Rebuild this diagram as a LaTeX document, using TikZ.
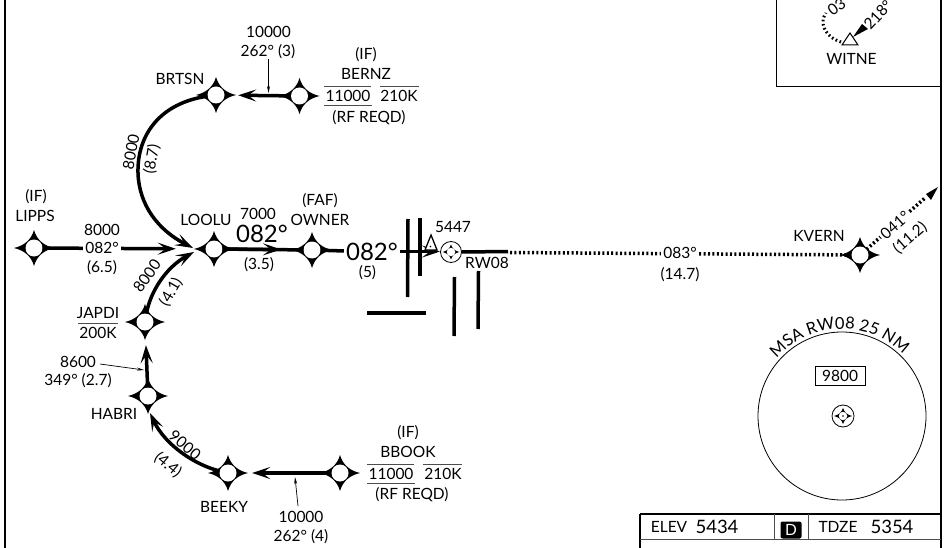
\documentclass[tikz,border=0pt]{standalone}
\usepackage{fontspec}
\setmainfont{Lato}
\usetikzlibrary{positioning,arrows.meta,decorations.text}

% four pointed fix symbol, x y scale
\newcommand{\fourstar}[3]{\fill[shift={(#1,#2)},scale=#3] (0,-18) .. controls (2.5,-9) and (9,-2.5) .. (20,0) .. controls (9,2.5) and (2.5,9) .. (0,18) .. controls (-2.5,9) and (-9,2.5) .. (-20,0) .. controls (-9,-2.5) and (-2.5,-9) .. cycle;}

\tikzset{
	fix/.style={circle,fill=white,inner sep=0pt,minimum size=17pt},
	navhub/.style={circle,fill=white,inner sep=0pt,minimum size=8.5pt},
	route/.style={line width=3.5pt},
	tip/.style={-{Stealth[length=18pt,width=12pt,inset=8pt]}},
	bar/.style={line width=3.5pt},
	leader/.style={line width=.7pt,-{Stealth[length=7pt,width=3pt]}},
	rule/.style={line width=.8pt,black!70},
	dots/.style={line width=3.5pt,dash pattern=on 2pt off 2.4pt},
	big/.style={font=\fontsize{24}{24}\selectfont},
	mid/.style={font=\fontsize{18.5}{18.5}\selectfont}
}

\begin{document}
\begin{tikzpicture}[x=1pt,y=-1pt,every node/.style={font=\fontsize{15.5}{15.5}\selectfont,inner sep=0pt}]

	\useasboundingbox (0,0) rectangle (950,548);

	%frame
	\draw[line width=2pt] (4.5,0) -- (4.5,548);
	\draw[line width=2pt] (941,0) -- (941,548);

	%fixes
	\fourstar{216}{95}{1}
	\node[fix] (brtsn) at (216,95) {};
	\fourstar{299.5}{96}{1}
	\node[fix] (bernz) at (299.5,96) {};
	\fourstar{34}{248}{1}
	\node[fix] (lipps) at (34,248) {};
	\fourstar{214}{249}{1}
	\node[fix] (loolu) at (214,249) {};
	\fourstar{312}{250}{1}
	\node[fix] (owner) at (312,250) {};
	\fourstar{860}{255}{1}
	\node[fix] (kvern) at (860,255) {};
	\fourstar{145}{322}{1}
	\node[fix] (japdi) at (145,322) {};
	\fourstar{148}{396}{1}
	\node[fix] (habri) at (148,396) {};
	\fourstar{228}{473}{1}
	\node[fix] (beeky) at (228,473) {};
	\fourstar{340}{473}{1}
	\node[fix] (bbook) at (340,473) {};

	%airport
	\node[circle,draw,line width=.8pt,fill=white,minimum size=21pt] (apt) at (451,252) {};
	\fourstar{451}{252}{.42}
	\node[navhub] (apthub) at (451,252) {};

	%fix names
	\node (n1) at (180,79) {BRTSN};
	\node (n2) at (35,216) {LIPPS};
	\node (n3) at (36,197) {(IF)};
	\node (n4) at (206,220) {LOOLU};
	\node (n5) at (320,220) {OWNER};
	\node (n6) at (320,201) {(FAF)};
	\node (n7) at (819,236) {KVERN};
	\node (n8) at (114,414) {HABRI};
	\node (n9) at (224,507) {BEEKY};

	%bernz box
	\node (b1) at (366,55) {(IF)};
	\node (b2) at (366,74) {BERNZ};
	\node (b3) at (348,96) {11000};
	\node (b4) at (399,96) {210K};
	\node (b5) at (369,118) {(RF REQD)};
	\draw[rule] (324,86) -- (371,86);
	\draw[rule] (380,86) -- (419,86);
	\draw[rule] (324,105) -- (372,105);

	%bbook box
	\node (c1) at (408,433) {(IF)};
	\node (c2) at (408,452) {BBOOK};
	\node (c3) at (391,474) {11000};
	\node (c4) at (443,474) {210K};
	\node (c5) at (412,495) {(RF REQD)};
	\draw[rule] (367,464) -- (414,464);
	\draw[rule] (423,464) -- (462,464);
	\draw[rule] (367,483) -- (415,483);

	%japdi box
	\node (d1) at (98,313) {JAPDI};
	\node (d2) at (98,333) {200K};
	\draw[rule] (78,323) -- (118,323);

	%routes
	\draw[route,tip,shorten >=13.5pt] (bernz) -- (brtsn);
	\draw[route,tip,shorten >=15.5pt] (bbook) -- (beeky);
	\draw[route,tip,shorten >=14.5pt] (habri) -- (japdi);
	\draw[route,tip] (brtsn) .. controls (160,103) and (137,135) .. (138,173) .. controls (139,205) and (158,230) .. (193,248);
	\draw[route,tip] (japdi) .. controls (150,293) and (165,268) .. (194,252);
	\draw[route,tip] (beeky) .. controls (195,465) and (165,445) .. (150,413);
	\draw[route,tip,shorten >=29.5pt] (lipps) -- (loolu);
	\coordinate (a1) at (281,249.5);
	\draw[route] (loolu) -- (owner);
	\draw[route,tip] (loolu) -- (a1);
	\coordinate (a2) at (440,251.5);
	\draw[route] (owner) -- (345,251);
	\draw[route,tip] (395,251.5) -- (a2);
	\draw[route] (apt.east) -- (508,251.5);
	\coordinate (a3) at (510,252.5);
	\draw[dots] (a3) -- (kvern);
	\coordinate (a4) at (938,187);
	\draw[dots] (kvern) -- (925,198);
	\fill (a4) -- (926,194) -- (931,200) -- cycle;

	%route labels
	\node[fill=white,inner xsep=2pt] (l1) at (102,248) {082°};
	\node (l2) at (102,230) {8000};
	\node (l3) at (102,268) {(6.5)};
	\node (l4) at (258,214) {7000};
	\node[big] (l5) at (262,234) {082°};
	\node (l6) at (259,265) {(3.5)};
	\node[big,fill=white,inner xsep=2pt] (l7) at (372,252) {082°};
	\node (l8) at (367.5,273) {(5)};
	\node[fill=white,inner xsep=2pt] (l9) at (680,253) {083°};
	\node (l10) at (680,275) {(14.7)};
	\node[fill=white,rotate=41,inner xsep=2pt] (l11) at (895,225) {041°};
	\node[rotate=41] (l12) at (910,238) {(11.2)};
	\node[rotate=80] (l13) at (131,152) {8000};
	\node[rotate=80] (l14) at (152,159) {(8.7)};
	\node[rotate=55] (l15) at (147,276) {8000};
	\node[rotate=60] (l16) at (171,292) {(4.1)};
	\node[rotate=-40] (l17) at (185,445) {9000};
	\node[rotate=-40] (l18) at (168,465) {(4.4)};

	%leaders
	\node (t1) at (268.5,32) {10000};
	\node (t2) at (268,52) {262° (3)};
	\coordinate (p1) at (268.5,93);
	\draw[leader] (268.5,59) -- (p1);
	\node (t3) at (301,517) {10000};
	\node (t4) at (301,537) {262° (4)};
	\coordinate (p2) at (295,477);
	\draw[leader] (298,506) -- (p2);
	\node (t5) at (78,362) {8600};
	\node (t6) at (78,381) {349° (2.7)};
	\coordinate (p3) at (144,370);
	\draw[leader] (100,364) -- (p3);

	%bars
	\draw[bar] (408,219) -- (407.5,297);
	\draw[bar] (420,218) -- (420,276);
	\draw[bar] (367,313) -- (426,313);
	\draw[bar] (454.5,277) -- (454,336);
	\draw[bar] (478.5,271) -- (478,329);

	%obstacle
	\draw[line width=1.3pt,fill=white] (431,235) -- (437,250) -- (425,250) -- cycle;
	\fill (430.5,246.5) circle (.9);
	\node (o1) at (453,227) {5447};
	\node (o2) at (487,263) {RW08};

	%witne panel
	\draw[line width=1pt] (776,0) -- (776,86.5) -- (941,86.5);
	\draw[line width=1pt] (850,33) -- (858,45) -- (842,45) -- cycle;
	\node (w1) at (851.5,59) {WITNE};
	\fill (853,37) -- (862,24) -- (868,29) -- cycle;
	\draw[line width=3pt,dash pattern=on 1.6pt off 2.6pt] (841,42) .. controls (830,39) and (823,30) .. (823,22) .. controls (823,18) and (824,16) .. (826,13);
	\node[rotate=47] (w2) at (878,15) {218°};
	\node[rotate=36] (w3) at (836.5,7) {03};

	%msa circle
	\node[circle,draw,line width=.8pt,minimum size=168pt] (msa) at (842,416) {};
	\node[draw,line width=.8pt,minimum width=50pt,minimum height=19pt] (m1) at (840,375.5) {9800};
	\node[circle,draw,line width=.8pt,minimum size=22pt] (m2) at (843,416) {};
	\fourstar{843}{416}{.45}
	\node[navhub] (m3) at (843,416) {};
	\fill (843,416) circle (.8);
	\path[decorate,decoration={text along path,text align=center,text={|\fontsize{16.5}{16.5}\selectfont|MSA RW08 25 NM}}] (842,416) ++(142:87pt) arc[start angle=142,end angle=42,radius=87pt];

	%table
	\draw[line width=2pt] (640,514) -- (941,514);
	\draw[line width=1.5pt] (640,514) -- (640,548);
	\draw[rule] (640,539.5) -- (941,539.5);
	\draw[rule] (774,514) -- (774,539.5);
	\draw[rule] (808,514) -- (808,539.5);
	\node (e1) at (669,527) {ELEV};
	\node[mid] (e2) at (717,527) {5434};
	\node[fill=black,text=white,rounded corners=2pt,minimum width=21pt,minimum height=17pt] (e3) at (791,530) {D};
	\node (e4) at (838,527) {TDZE};
	\node[mid] (e5) at (892,527) {5354};

\end{tikzpicture}
\end{document}
